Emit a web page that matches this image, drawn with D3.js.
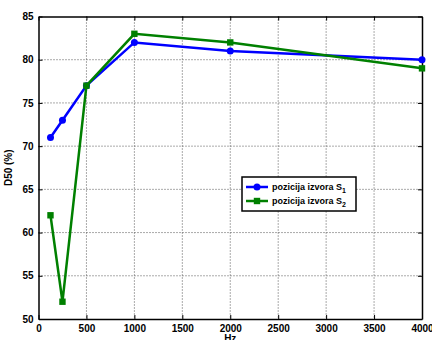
<!DOCTYPE html>
<html><head><meta charset="utf-8">
<script src="https://cdn.jsdelivr.net/npm/d3@7"></script>
<style>body{margin:0;background:#fff}svg{display:block}text{font-family:"Liberation Sans",Arial,sans-serif;font-weight:bold}</style>
</head><body><svg id="c" width="432" height="340"></svg>
<script>
const freqs = [125, 250, 500, 1000, 2000, 4000];
const s1 = [71, 73, 77, 82, 81, 80];
const s2 = [62, 52, 77, 83, 82, 79];
const xTicks = [0,500,1000,1500,2000,2500,3000,3500,4000];
const yTicks = [50,55,60,65,70,75,80,85];
const names = ["pozicija izvora S", "pozicija izvora S"];
const subs = ["1","2"];
const colors = ["#0000ff","#008000"];

const svg = d3.select("#c");
const L=38.5, R=422, T=16.5, B=319;
const x = d3.scaleLinear().domain([0,4000]).range([L,R]);
const y = d3.scaleLinear().domain([50,85]).range([B,T]);

const g = svg.append("g");
// grid
g.selectAll(".gx").data(xTicks.slice(1,-1)).enter().append("line")
 .attr("x1",d=>x(d)).attr("x2",d=>x(d)).attr("y1",T).attr("y2",B)
 .attr("stroke","#555").attr("stroke-width",1).attr("stroke-dasharray","1,2");
g.selectAll(".gy").data(yTicks.slice(1,-1)).enter().append("line")
 .attr("y1",d=>y(d)).attr("y2",d=>y(d)).attr("x1",L).attr("x2",R)
 .attr("stroke","#555").attr("stroke-width",1).attr("stroke-dasharray","1,2");

// axes
const xa = svg.append("g").attr("transform",`translate(0,${B})`)
 .call(d3.axisBottom(x).tickValues(xTicks).tickFormat(d3.format("d")).tickSizeInner(-4).tickSizeOuter(0).tickPadding(6));
const ya = svg.append("g").attr("transform",`translate(${L},0)`)
 .call(d3.axisLeft(y).tickValues(yTicks).tickFormat(d3.format("d")).tickSizeInner(-4).tickSizeOuter(0).tickPadding(5));
[xa,ya].forEach(a=>{a.selectAll("text").attr("font-size",10).attr("fill","#000").style("font-family","Liberation Sans, Arial").style("font-weight","bold");
 a.select(".domain").attr("stroke","#000").attr("stroke-width",1.5);});
// top / right ticks
svg.append("g").attr("transform",`translate(0,${T})`)
 .call(d3.axisTop(x).tickValues(xTicks).tickSizeInner(-4).tickSizeOuter(0).tickFormat(""))
 .select(".domain").attr("stroke-width",1.5);
svg.append("g").attr("transform",`translate(${R},0)`)
 .call(d3.axisRight(y).tickValues(yTicks).tickSizeInner(-4).tickSizeOuter(0).tickFormat(""))
 .select(".domain").attr("stroke-width",1.5);

// labels
svg.append("text").attr("x",x(2000)).attr("y",342).attr("text-anchor","middle").attr("font-size",10).text("Hz");
svg.append("text").attr("transform",`translate(12,${(T+B)/2}) rotate(-90)`).attr("text-anchor","middle").attr("font-size",10).text("D50 (%)");

const line = d3.line().x((d,i)=>x(freqs[i])).y(d=>y(d));
[s1,s2].forEach((s,k)=>{
 svg.append("path").datum(s).attr("d",line).attr("fill","none").attr("stroke",colors[k]).attr("stroke-width",2.5);
 if(k===0){
  svg.selectAll(".m1").data(s).enter().append("circle").attr("cx",(d,i)=>x(freqs[i])).attr("cy",d=>y(d)).attr("r",3.5).attr("fill",colors[k]);
 } else {
  svg.selectAll(".m2").data(s).enter().append("rect").attr("x",(d,i)=>x(freqs[i])-3.2).attr("y",d=>y(d)-3.2).attr("width",6.4).attr("height",6.4).attr("fill",colors[k]);
 }
});

// legend
const lg = svg.append("g");
lg.append("rect").attr("x",242).attr("y",177).attr("width",114).attr("height",34).attr("fill","#fff").attr("stroke","#000").attr("stroke-width",1.5);
names.forEach((n,k)=>{
 const yy = 187 + k*14;
 lg.append("line").attr("x1",246).attr("x2",268).attr("y1",yy).attr("y2",yy).attr("stroke",colors[k]).attr("stroke-width",2.5);
 if(k===0) lg.append("circle").attr("cx",257).attr("cy",yy).attr("r",3.5).attr("fill",colors[k]);
 else lg.append("rect").attr("x",253.8).attr("y",yy-3.2).attr("width",6.4).attr("height",6.4).attr("fill",colors[k]);
 const t = lg.append("text").attr("x",272).attr("y",yy+3).attr("font-size",9).text(n);
 t.append("tspan").attr("dy",3).attr("font-size",7).text(subs[k]);
});
</script></body></html>
